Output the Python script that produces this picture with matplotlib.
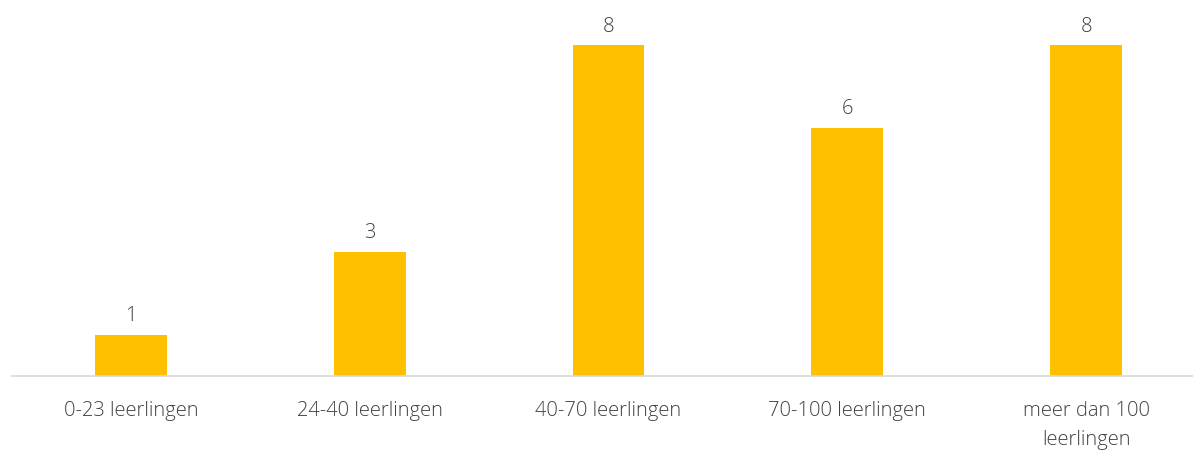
import matplotlib.pyplot as plt

categorieen = ['0-23 leerlingen', '24-40 leerlingen', '40-70 leerlingen',
               '70-100 leerlingen', 'meer dan 100\nleerlingen']
aantallen = [1, 3, 8, 6, 8]

plt.rcParams['font.family'] = ['Open Sans', 'DejaVu Sans']

fig = plt.figure(figsize=(11.93, 4.52), dpi=100)
ax = fig.add_axes([11.5 / 1193, 75 / 452, 1194 / 1193, 372 / 452])

x = range(len(categorieen))
bars = ax.bar(x, aantallen, width=0.30, color='#FFC000')
ax.bar_label(bars, padding=7, fontsize=14.5, color='#404040', fontweight='light')

ax.set_xlim(-0.5, 4.5)
ax.set_ylim(0, 9)
ax.set_xticks(list(x))
ax.set_xticklabels(categorieen, fontsize=14.5, color='#404040', linespacing=1.65,
                   fontweight='light')
ax.tick_params(axis='x', length=0, pad=17)
ax.set_yticks([])
for s in ['top', 'right', 'left']:
    ax.spines[s].set_visible(False)
ax.spines['bottom'].set_color('#D9D9D9')
ax.spines['bottom'].set_linewidth(1.2)

plt.savefig('out.png', dpi=100)
